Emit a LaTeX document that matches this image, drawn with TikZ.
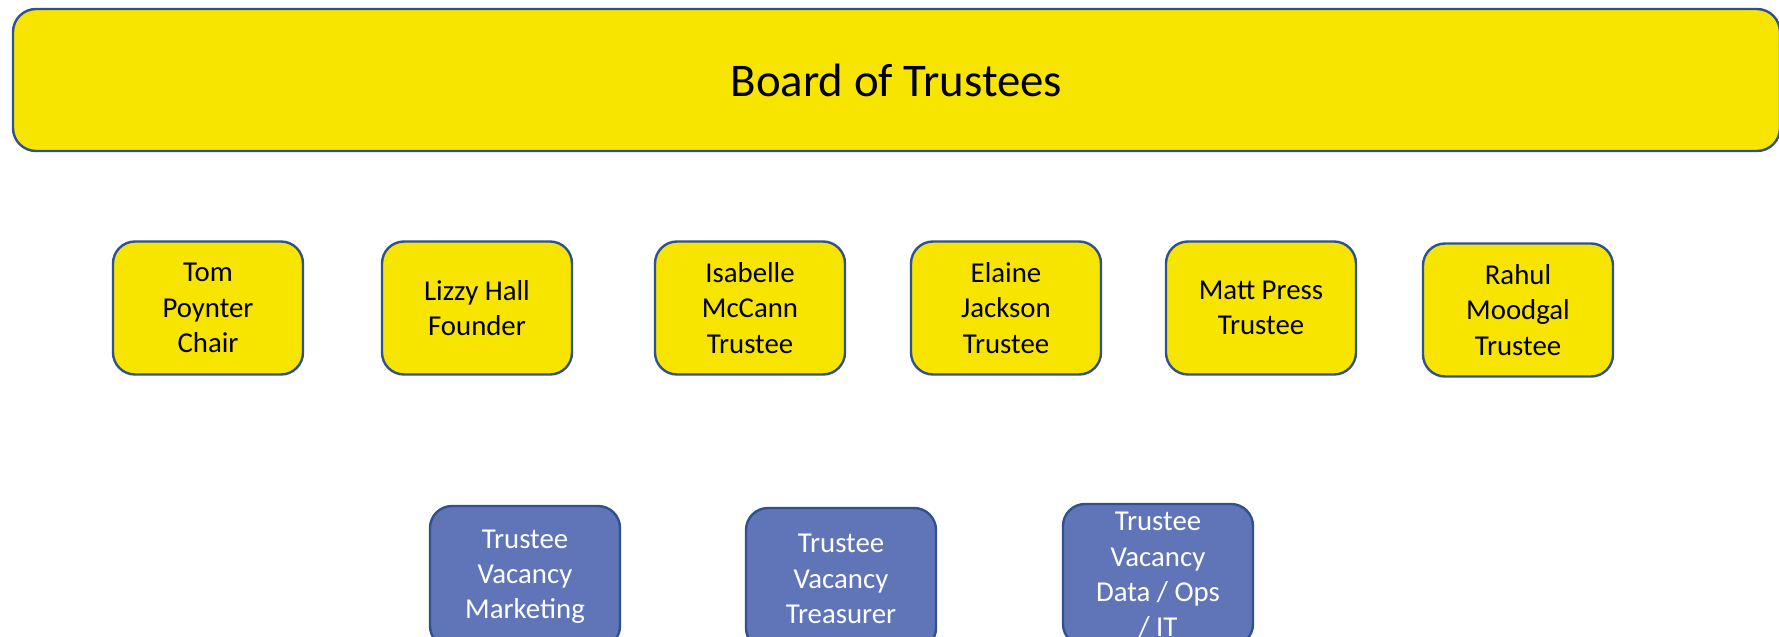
\documentclass[tikz,border=0pt]{standalone}
\usepackage{fontspec}
\setmainfont{Carlito}
\definecolor{boardyellow}{RGB}{247,229,0}
\definecolor{edgeblue}{RGB}{47,82,143}
\definecolor{vacancyblue}{RGB}{96,117,184}

\begin{document}
\begin{tikzpicture}[x=0.5pt, y=-0.5pt,
	box/.style = {draw=edgeblue, line width=1.2pt, rounded corners=11pt,
		minimum width=95pt, minimum height=66.5pt, inner sep=0pt,
		align=center, font=\fontsize{14.4}{17.6}\selectfont},
	member/.style = {box, fill=boardyellow, text=black},
	vacancy/.style = {box, fill=vacancyblue, text=white, minimum height=71pt}]
	\useasboundingbox (0,0) rectangle (1779,637);
	\node[draw=edgeblue, line width=1.2pt, rounded corners=11.5pt, fill=boardyellow,
		minimum width=883.5pt, minimum height=71pt,
		font=\fontsize{23.4}{28}\selectfont] (board) at (896.5,80) {Board of Trustees};
	\node[member] (tom) at (208,308) {Tom\\Poynter\\Chair};
	\node[member] (lizzy) at (477,308) {Lizzy Hall\\Founder};
	\node[member] (isabelle) at (750,308) {Isabelle\\McCann\\Trustee};
	\node[member] (elaine) at (1006,308) {Elaine\\Jackson\\Trustee};
	\node[member] (matt) at (1261,308) {Matt Press\\Trustee};
	\node[member] (rahul) at (1518,310) {Rahul\\Moodgal\\Trustee};
	\node[vacancy] (marketing) at (525,577) {Trustee\\Vacancy\\Marketing};
	\node[vacancy] (treasurer) at (841,579) {Trustee\\Vacancy\\Treasurer};
	\node[vacancy] (dataops) at (1158,575) {Trustee\\Vacancy\\Data / Ops\\/ IT};
\end{tikzpicture}
\end{document}
